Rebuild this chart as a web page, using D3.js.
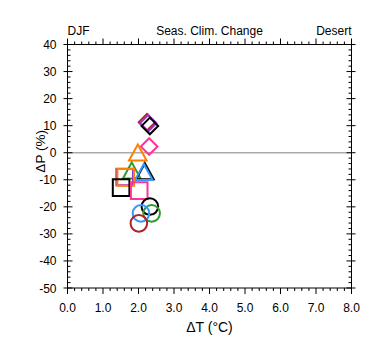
<!DOCTYPE html>
<html><head><meta charset="utf-8">
<script src="https://cdn.jsdelivr.net/npm/d3@7"></script>
<style>body{margin:0;background:#fff}svg{display:block}text{font-family:"Liberation Sans",Arial,Helvetica,sans-serif;fill:#000}</style>
</head><body>
<script>
// Data
const shapes = ["diamond","diamond","diamond","diamond","triangle","triangle","triangle","triangle","square","square","square","square","circle","circle","circle","circle"];
const colors = ["#b22222","#9933cc","#000000","#ff3399","#ff7f00","#339933","#000000","#3399ff","#9933cc","#ff7f00","#000000","#ff3399","#000000","#339933","#3399ff","#b22222"];
const dT = [2.24,2.27,2.32,2.30,1.98,1.81,2.18,2.15,1.61,1.64,1.51,2.02,2.32,2.37,2.07,2.01];
const dP = [11.3,10.9,9.9,2.3,-0.4,-7.0,-7.3,-7.6,-9.0,-9.1,-12.9,-14.0,-19.9,-22.4,-22.4,-26.1];
const xTicks = [0,1,2,3,4,5,6,7,8];
const yTicks = [40,30,20,10,0,-10,-20,-30,-40,-50];
const titles = ["DJF","Seas. Clim. Change","Desert"];

const W=380,H=355, L=67.5, R=351.5, T=44.5, B=288;
const svg=d3.select("body").append("svg").attr("width",W).attr("height",H);
const x=d3.scaleLinear().domain([0,8]).range([L,R]);
const y=d3.scaleLinear().domain([-50,40]).range([B,T]);

// zero line
svg.append("line").attr("x1",L).attr("x2",R).attr("y1",y(0)).attr("y2",y(0)).attr("stroke","#aaaaaa").attr("stroke-width",1.5);

const g=svg.append("g").attr("stroke","#000").attr("stroke-width",1);
// frame
g.append("rect").attr("x",L).attr("y",T).attr("width",R-L).attr("height",B-T).attr("fill","none");
// x ticks
const xMinor=d3.range(0,8.0001,0.2);
xMinor.forEach(v=>{
  const major=Math.abs(v-Math.round(v))<1e-6;
  const len=major?6:3;
  g.append("line").attr("x1",x(v)).attr("x2",x(v)).attr("y1",B).attr("y2",B+len);
  g.append("line").attr("x1",x(v)).attr("x2",x(v)).attr("y1",T).attr("y2",T-len);
});
const yMinor=d3.range(-50,40.0001,2);
yMinor.forEach(v=>{
  const major=Math.abs(v%10)<1e-6;
  const inl=major?5:3, outl=major?4:0;
  g.append("line").attr("x1",L-outl).attr("x2",L+inl).attr("y1",y(v)).attr("y2",y(v));
  g.append("line").attr("x1",R+outl).attr("x2",R-inl).attr("y1",y(v)).attr("y2",y(v));
});

// tick labels
svg.append("g").selectAll("text").data(xTicks).join("text")
  .attr("x",d=>x(d)).attr("y",312).attr("text-anchor","middle").attr("font-size",12).text(d=>d.toFixed(1));
svg.append("g").selectAll("text").data(yTicks).join("text")
  .attr("x",L-11).attr("y",d=>y(d)+4.5).attr("text-anchor","end").attr("font-size",12).text(d=>d);

// axis titles
svg.append("text").attr("x",x(4)).attr("y",332).attr("text-anchor","middle").attr("font-size",14).text("ΔT (°C)");
svg.append("text").attr("transform",`translate(${L-22.5},${y(0.5)}) rotate(-90)`).attr("text-anchor","middle").attr("font-size",13.5).text("ΔP (%)");

// titles
svg.append("text").attr("x",L).attr("y",35).attr("font-size",12).text(titles[0]);
svg.append("text").attr("x",(L+R)/2).attr("y",35).attr("text-anchor","middle").attr("font-size",12).text(titles[1]);
svg.append("text").attr("x",R).attr("y",35).attr("text-anchor","end").attr("font-size",12).text(titles[2]);

// markers
const s=8.3;
function path(shape){
  if(shape==="diamond") return `M0,${-s}L${s},0L0,${s}L${-s},0Z`;
  if(shape==="triangle") return `M0,${-s-1}L${s+0.5},${s-1.5}L${-s-0.5},${s-1.5}Z`;
  if(shape==="square") return `M${-s},${-s}H${s}V${s}H${-s}Z`;
  return d3.arc()({innerRadius:0,outerRadius:s,startAngle:0,endAngle:2*Math.PI});
}
const idx=d3.range(dT.length);
svg.append("g").selectAll("path").data(idx).join("path")
  .attr("transform",i=>`translate(${x(dT[i])},${y(dP[i])})`)
  .attr("d",i=>path(shapes[i]))
  .attr("fill","none").attr("stroke",i=>colors[i]).attr("stroke-width",2);
</script>
</body></html>
